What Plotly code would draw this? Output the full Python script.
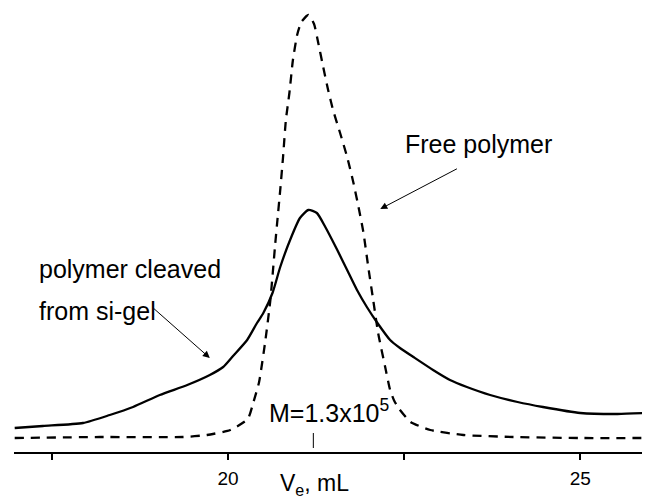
import plotly.graph_objects as go

# elution volume (mL) / detector signal (a.u.)
cleaved_ve = [16.97, 17.37, 17.94, 18.32, 18.65, 19.03, 19.42, 19.74, 19.93, 20.07,
              20.27, 20.41, 20.50, 20.63, 20.74, 20.88, 21.02, 21.14, 21.26, 21.38,
              21.55, 21.69, 21.83, 21.97, 22.12, 22.30, 22.44, 22.63, 22.91, 23.15,
              23.39, 23.72, 24.11, 24.47, 25.00, 25.53, 25.95]
cleaved_sig = [24, 26, 29, 37, 45, 57, 67, 77, 85, 96,
               112, 129, 139, 159, 185, 212, 234, 242, 239, 225,
               202, 182, 162, 145, 129, 112, 104, 95, 82, 72,
               65, 57, 50, 45, 39, 38, 39]

free_ve = [16.97, 18.18, 19.36, 19.70, 20.03, 20.28, 20.36, 20.44, 20.53, 20.60,
           20.67, 20.70, 20.74, 20.78, 20.82, 20.87, 20.92, 20.98, 21.04, 21.14,
           21.22, 21.28, 21.35, 21.42, 21.49, 21.59, 21.69, 21.78, 21.86, 21.92,
           21.99, 22.06, 22.13, 22.23, 22.30, 22.36, 22.43, 22.59, 22.87, 23.34,
           24.05, 25.00, 25.95]
free_sig = [14, 15, 15, 17, 22, 33, 50, 70, 112, 152,
            209, 232, 262, 295, 332, 359, 392, 417, 430, 437,
            428, 409, 385, 362, 342, 319, 295, 269, 242, 220,
            185, 152, 119, 85, 62, 51, 43, 30, 22, 17,
            15, 14, 14]

peak_ve = 21.21
peak_mark = [4, 19]

FONT = "Liberation Sans, Arial, sans-serif"

fig = go.Figure()
fig.add_trace(go.Scatter(x=free_ve, y=free_sig, mode="lines",
                         line=dict(color="black", width=2.3, dash="9px,7px",
                                   shape="spline", smoothing=0.5)))
fig.add_trace(go.Scatter(x=cleaved_ve, y=cleaved_sig, mode="lines",
                         line=dict(color="black", width=2.3, shape="spline", smoothing=0.6)))
fig.add_trace(go.Scatter(x=[peak_ve, peak_ve], y=peak_mark, mode="lines",
                         line=dict(color="black", width=1)))

txt = dict(showarrow=False, xanchor="left", yanchor="middle",
           font=dict(family=FONT, size=25, color="black"))
fig.add_annotation(x=22.49, y=308, text="Free polymer", **txt)
fig.add_annotation(x=17.29, y=183, text="polymer cleaved", **txt)
fig.add_annotation(x=17.29, y=141, text="from si-gel", **txt)
fig.add_annotation(x=20.55, y=41, text="M=1.3x10<sup>5</sup>", **txt)

arrow = dict(text="", showarrow=True, axref="x", ayref="y",
             arrowhead=2, arrowsize=1.4, arrowwidth=1, arrowcolor="black")
fig.add_annotation(x=22.16, y=243, ax=23.27, ay=284, **arrow)
fig.add_annotation(x=19.74, y=94, ax=18.92, ay=145, **arrow)

fig.add_annotation(x=20.71, y=0, xref="x", yref="paper", xanchor="left",
                   yanchor="top", yshift=-16, showarrow=False,
                   text="V<sub>e</sub>, mL",
                   font=dict(family=FONT, size=23, color="black"))

fig.update_xaxes(range=[16.96, 25.99], showline=True, linecolor="black",
                 linewidth=1.5, ticks="outside", ticklen=6, tickwidth=1.5,
                 tickcolor="black", tick0=0, dtick=5,
                 minor=dict(dtick=2.5, ticks="outside", ticklen=6,
                            tickwidth=1.5, tickcolor="black"),
                 tickfont=dict(family=FONT, size=19, color="black"),
                 showgrid=False, zeroline=False, ticklabelstandoff=2)
fig.update_yaxes(range=[0, 444], visible=False)
# page body has an 8px margin, so the figure is drawn 8px in from the corner
fig.update_layout(width=642, height=488, showlegend=False,
                  margin=dict(l=6, r=0, t=0, b=44),
                  plot_bgcolor="white", paper_bgcolor="white")

fig.write_html("out.html")
